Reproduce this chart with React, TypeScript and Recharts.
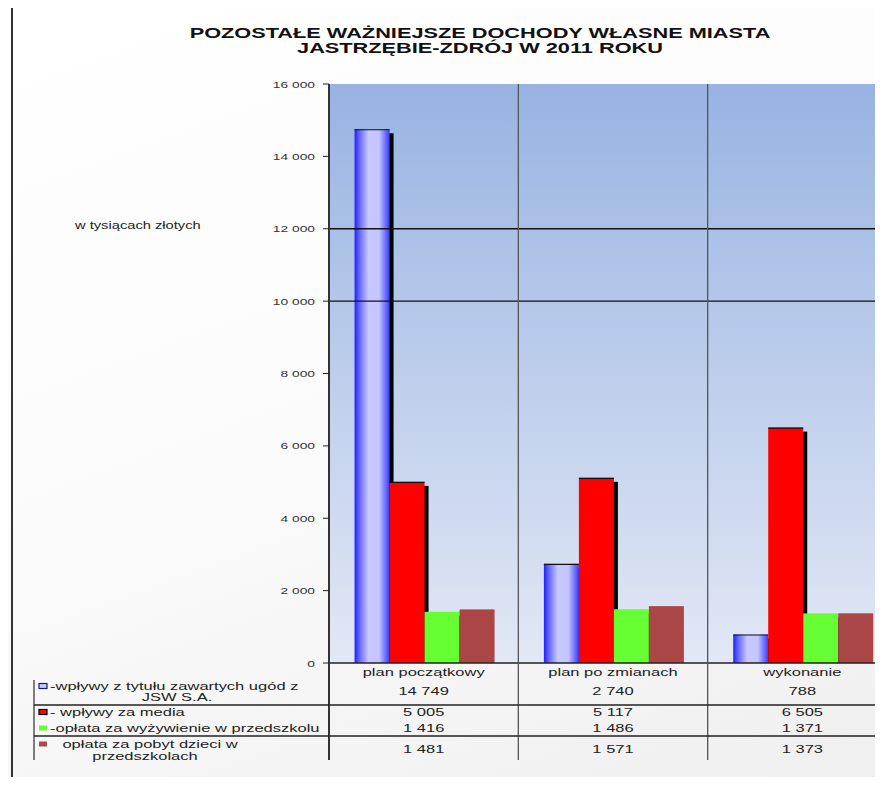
import React from 'react';
import { BarChart, Bar, XAxis, YAxis, CartesianGrid, ReferenceLine } from 'recharts';

// ---------- data ----------
const categories = ['plan początkowy', 'plan po zmianach', 'wykonanie'];
const jswValues = [14749, 2740, 788];
const mediaValues = [5005, 5117, 6505];
const zywienieValues = [1416, 1486, 1371];
const pobytValues = [1481, 1571, 1373];
const yTicks = [0, 2000, 4000, 6000, 8000, 10000, 12000, 14000, 16000];
const gridValues = [10000, 12000];
const titleLines = ['POZOSTAŁE WAŻNIEJSZE DOCHODY WŁASNE MIASTA', 'JASTRZĘBIE-ZDRÓJ W 2011 ROKU'];
const unitLabel = 'w tysiącach  złotych';
const seriesKeys = ['jsw', 'media', 'zywienie', 'pobyt'];
const seriesValues = [jswValues, mediaValues, zywienieValues, pobytValues];
const seriesLabelLines = [
  ['-wpływy z tytułu zawartych ugód z', 'JSW S.A.'],
  ['- wpływy za media'],
  ['-opłata za wyżywienie w przedszkolu'],
  ['opłata za pobyt dzieci w', 'przedszkolach'],
];

const chartData = categories.map((c, i) => ({
  category: c,
  jsw: jswValues[i],
  media: mediaValues[i],
  zywienie: zywienieValues[i],
  pobyt: pobytValues[i],
}));

// ---------- layout ----------
const FONT = '"Liberation Sans", Arial, sans-serif';
const CHART_W = 897;
const CHART_H = 785;
const PLOT_LEFT = 329;
const PLOT_TOP = 84;
const PLOT_BOTTOM = 663;
const BAND = (CHART_W - PLOT_LEFT) / categories.length;
const TABLE_LEFT = 34;
const TABLE_BOTTOM = 760;
const TABLE_ROW_LINES = [705, 736];
const CAT_BASELINE = 676;
const ROW_BASELINES = [695, 716, 732, 753];
const SX = 1.5;

const fmt = (n: number) => String(n).replace(/\B(?=(\d{3})+(?!\d))/g, ' ');

function SText(props: any) {
  const { x, y, size = 11, sx = SX, anchor = 'start', weight = 'normal', fill = '#222', children } = props;
  return (
    <text
      transform={`translate(${x},${y}) scale(${sx},1)`}
      x={0}
      y={0}
      fontSize={size}
      fontFamily={FONT}
      fontWeight={weight}
      textAnchor={anchor}
      fill={fill}
    >
      {children}
    </text>
  );
}

const makeShape = (shadow: boolean, topLine: boolean) => (props: any) => {
  const { x, y, width, height, fill } = props;
  if (!height || height <= 0) return <g />;
  return (
    <g>
      {shadow && <rect x={x + 4} y={y + 4} width={width} height={Math.max(0, height - 4)} fill="#000" />}
      <rect x={x} y={y} width={width} height={height} fill={fill} />
      {topLine && <line x1={x} x2={x + width} y1={y + 0.5} y2={y + 0.5} stroke="#111" strokeWidth={1.2} />}
    </g>
  );
};

const YTick = (props: any) => {
  const { x, y, payload } = props;
  return (
    <SText x={x} y={y + 3.5} size={9.5} sx={1.45} anchor="end" fill="#333">
      {fmt(payload.value)}
    </SText>
  );
};

const XTick = (props: any) => {
  const { x, payload, index } = props;
  const i = index ?? categories.indexOf(payload.value);
  return (
    <g>
      <line x1={x + BAND / 2} x2={x + BAND / 2} y1={PLOT_TOP} y2={TABLE_BOTTOM} stroke="#555" strokeWidth={1.3} />
      <SText x={x} y={CAT_BASELINE} anchor="middle">{payload.value}</SText>
      {seriesValues.map((vals, r) => (
        <SText key={r} x={x} y={ROW_BASELINES[r]} anchor="middle">{fmt(vals[i])}</SText>
      ))}
    </g>
  );
};

export default function App() {
  const legendFills = ['#c8c8ff', '#ff0000', '#66ff33', '#b04848'];
  const legendStrokes = ['#1a1a80', '#000', 'none', 'none'];
  const markerY = [686, 712, 728, 744];
  return (
    <div
      style={{
        position: 'relative',
        width: 883,
        height: 785,
        margin: -8,
        overflow: 'hidden',
        background: 'linear-gradient(160deg, #ffffff 0%, #fbfbfb 50%, #efefef 100%)',
      }}
    >
      <svg width={883} height={785} style={{ position: 'absolute', left: 0, top: 0 }}>
        <defs>
          <linearGradient id="plotBg" x1="0" y1="0" x2="0" y2="1">
            <stop offset="0%" stopColor="#98b3e2" />
            <stop offset="100%" stopColor="#e2e8f5" />
          </linearGradient>
          <linearGradient id="blueGrad" x1="0" y1="0" x2="1" y2="0">
            <stop offset="0%" stopColor="#2020ff" />
            <stop offset="15%" stopColor="#6a6aff" />
            <stop offset="40%" stopColor="#c8c8ff" />
            <stop offset="70%" stopColor="#c4c4ff" />
            <stop offset="100%" stopColor="#3a3aff" />
          </linearGradient>
        </defs>
        <line x1={12} x2={12} y1={8} y2={785} stroke="#333" strokeWidth={2} />
      </svg>
      <div style={{ position: 'absolute', left: 0, top: 0 }}>
        <BarChart
          width={CHART_W}
          height={CHART_H}
          data={chartData}
          margin={{ top: PLOT_TOP, right: 0, bottom: 0, left: 0 }}
          barCategoryGap="13.5%"
          barGap={0}
        >
          <CartesianGrid fill="url(#plotBg)" horizontal={false} vertical={false} stroke="none" />
          <XAxis
            dataKey="category"
            height={CHART_H - PLOT_BOTTOM}
            tickLine={false}
            axisLine={{ stroke: '#222', strokeWidth: 1.5 }}
            interval={0}
            tick={<XTick />}
          />
          <YAxis
            width={PLOT_LEFT}
            domain={[0, 16000]}
            ticks={yTicks}
            tickSize={6}
            tickMargin={8}
            tickLine={{ stroke: '#222' }}
            axisLine={{ stroke: '#333', strokeWidth: 2 }}
            tick={<YTick />}
            interval={0}
          />
          {gridValues.map((v) => (
            <ReferenceLine key={v} y={v} stroke="#111" strokeWidth={1.3} />
          ))}
          <Bar dataKey="jsw" fill="url(#blueGrad)" shape={makeShape(true, true)} isAnimationActive={false} />
          <Bar dataKey="media" fill="#ff0000" shape={makeShape(true, true)} isAnimationActive={false} />
          <Bar dataKey="zywienie" fill="#66ff33" shape={makeShape(true, false)} isAnimationActive={false} />
          <Bar dataKey="pobyt" fill="#aa4646" shape={makeShape(false, false)} isAnimationActive={false} />
        </BarChart>
      </div>
      <svg width={883} height={785} style={{ position: 'absolute', left: 0, top: 0, pointerEvents: 'none' }}>
        <SText x={480} y={38} size={14.5} weight="bold" anchor="middle" fill="#111">{titleLines[0]}</SText>
        <SText x={480} y={53} size={14.5} weight="bold" anchor="middle" fill="#111">{titleLines[1]}</SText>
        <SText x={75} y={229} size={10} sx={1.47} fill="#222">{unitLabel}</SText>
        {/* table frame */}
        <line x1={PLOT_LEFT} x2={PLOT_LEFT} y1={PLOT_BOTTOM} y2={TABLE_BOTTOM} stroke="#333" strokeWidth={2} />
        <line x1={TABLE_LEFT} x2={TABLE_LEFT} y1={680} y2={TABLE_BOTTOM} stroke="#555" strokeWidth={1.5} />
        {TABLE_ROW_LINES.map((y) => (
          <line key={y} x1={TABLE_LEFT} x2={883} y1={y} y2={y} stroke="#222" strokeWidth={1.5} />
        ))}
        {seriesKeys.map((k, r) => (
          <rect
            key={k}
            x={39}
            y={markerY[r] - 2.5}
            width={8}
            height={5}
            fill={legendFills[r]}
            stroke={legendStrokes[r]}
            strokeWidth={legendStrokes[r] === 'none' ? 0 : 1.2}
          />
        ))}
        <SText x={50} y={690}>{seriesLabelLines[0][0]}</SText>
        <SText x={177} y={701} anchor="middle">{seriesLabelLines[0][1]}</SText>
        <SText x={50} y={716}>{seriesLabelLines[1][0]}</SText>
        <SText x={50} y={732}>{seriesLabelLines[2][0]}</SText>
        <SText x={150} y={748} anchor="middle">{seriesLabelLines[3][0]}</SText>
        <SText x={145} y={760} anchor="middle">{seriesLabelLines[3][1]}</SText>
      </svg>
    </div>
  );
}
